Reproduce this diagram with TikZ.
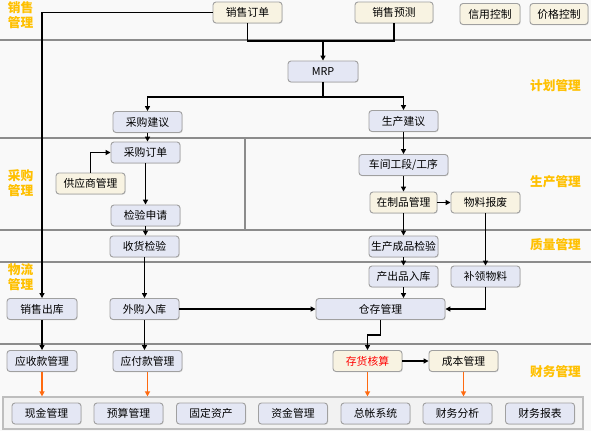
\documentclass[tikz,border=0pt]{standalone}
\usepackage{fontspec}
\newfontfamily\cjk{Noto Sans CJK SC}
\usetikzlibrary{arrows.meta,shadows}
\definecolor{bg}{HTML}{F9F9F9}
\definecolor{sepc}{HTML}{8C8C8C}
\definecolor{bluebox}{HTML}{E4E7F4}
\definecolor{creambox}{HTML}{F8F3E2}
\definecolor{boxedge}{HTML}{A0A0A0}
\definecolor{lblc}{HTML}{FFC000}
\definecolor{orarrow}{HTML}{FF6A10}
\definecolor{finfill}{HTML}{F2F2F2}
\definecolor{finedge}{HTML}{BEBEBE}
\begin{document}
\begin{tikzpicture}[x=1pt,y=-1pt,
  box/.style={draw=boxedge, line width=0.9pt, rounded corners=3pt, minimum height=21pt,
    inner sep=0pt, font=\cjk\fontsize{10.8}{12}\selectfont,
    drop shadow={shadow xshift=0.8pt,shadow yshift=-0.8pt,opacity=0.18}},
  bbox/.style={box, fill=bluebox},
  cbox/.style={box, fill=creambox},
  lab/.style={text=lblc, font=\cjk\bfseries\fontsize{12.7}{15}\selectfont, align=center, inner sep=0pt},
  sepline/.style={draw=sepc, line width=1.2pt},
  link/.style={draw=black, line width=1.3pt},
  arr/.style={link, -{Triangle[length=5pt,width=5pt]}},
  oarr/.style={draw=orarrow, line width=1.4pt, -{Triangle[length=5pt,width=5pt]}}
]
\fill[bg] (0,0) rectangle (591,431);
\useasboundingbox (0,0) rectangle (591,431);

% section lines
\draw[sepline] (0,40) -- (591,40);
\draw[sepline] (0,138) -- (591,138);
\draw[sepline] (0,230) -- (591,230);
\draw[sepline] (0,262) -- (591,262);
\draw[sepline] (0,344) -- (591,344);
\draw[sepline] (245,138) -- (245,230);

% section labels
\node[lab] (l1) at (20.5,15.5) {销售\\管理};
\node[lab] (l2) at (555.5,86) {计划管理};
\node[lab] (l3) at (20.5,183.5) {采购\\管理};
\node[lab] (l4) at (555.5,182) {生产管理};
\node[lab] (l5) at (555.5,245) {质量管理};
\node[lab] (l6) at (20.5,277.5) {物流\\管理};
\node[lab] (l7) at (555.5,372) {财务管理};

% bottom container
\node[draw=finedge, fill=finfill, line width=1.2pt, minimum width=580pt, minimum height=32pt, inner sep=0pt] (fin) at (293,413) {};

% nodes
\node[cbox, minimum width=69pt] (xsdd) at (247.5,12.5) {销售订单};
\node[cbox, minimum width=78pt] (xsyc) at (394,12.5) {销售预测};
\node[cbox, minimum width=60pt] (xykz) at (490,14) {信用控制};
\node[cbox, minimum width=58pt] (jgkz) at (559,14) {价格控制};
\node[bbox, minimum width=70pt] (mrp) at (323,71.5) {MRP};
\node[bbox, minimum width=69pt] (cgjy) at (147.5,122) {采购建议};
\node[bbox, minimum width=69pt] (scjy) at (403.5,121) {生产建议};
\node[bbox, minimum width=69pt] (cgdd) at (145.5,152.5) {采购订单};
\node[cbox, minimum width=69pt] (gys) at (90.5,183.5) {供应商管理};
\node[bbox, minimum width=69pt] (jysq) at (145.5,215.5) {检验申请};
\node[bbox, minimum width=69pt] (shjy) at (144.5,246.5) {收货检验};
\node[bbox, minimum width=89pt] (cj) at (403.5,165) {车间工段/工序};
\node[cbox, minimum width=67pt] (zzp) at (403.5,202.5) {在制品管理};
\node[cbox, minimum width=69pt] (wlbf) at (485.5,202.5) {物料报废};
\node[bbox, minimum width=69pt] (cpjy) at (403.5,246.5) {生产成品检验};
\node[bbox, minimum width=69pt] (ccrk) at (403.5,276.5) {产出品入库};
\node[bbox, minimum width=69pt] (blwl) at (485.5,276.5) {补领物料};
\node[bbox, minimum width=129pt] (cc) at (380.5,309) {仓存管理};
\node[bbox, minimum width=70pt] (xsck) at (42,309) {销售出库};
\node[bbox, minimum width=69pt] (wgrk) at (144.5,309) {外购入库};
\node[bbox, minimum width=70pt] (ysk) at (42,361) {应收款管理};
\node[bbox, minimum width=69pt] (yfk) at (147.5,361) {应付款管理};
\node[cbox, minimum width=69pt, text=red] (chhs) at (367.5,361) {存货核算};
\node[cbox, minimum width=69pt] (cbgl) at (463.5,361) {成本管理};

% bottom boxes
\node[bbox, minimum width=69pt] (f1) at (46.5,413.5) {现金管理};
\node[bbox, minimum width=69pt] (f2) at (128.5,413.5) {预算管理};
\node[bbox, minimum width=69pt] (f3) at (211,413.5) {固定资产};
\node[bbox, minimum width=69pt] (f4) at (293,413.5) {资金管理};
\node[bbox, minimum width=69pt] (f5) at (375.5,413.5) {总帐系统};
\node[bbox, minimum width=69pt] (f6) at (457.5,413.5) {财务分析};
\node[bbox, minimum width=69pt] (f7) at (540,413.5) {财务报表};

% junctions
\coordinate (m1) at (323,41);
\coordinate (m2) at (323,97);
\coordinate (k1) at (380.5,335);

% connectors
\draw[arr] (xsdd.west) -| (xsck.north);
\draw[link] (xsdd.south) |- (m1);
\draw[link] (xsyc.south) |- (m1);
\draw[arr] (m1) -- (mrp.north);
\draw[link] (mrp.south) -- (m2);
\draw[arr] (m2) -| (cgjy.north);
\draw[arr] (m2) -| (scjy.north);

\draw[arr] (cgjy.south) -- (cgjy.south |- cgdd.north);
\draw[arr] (gys.north) |- (cgdd.west);
\draw[arr] (cgdd.south) -- (cgdd.south |- jysq.north);
\draw[arr] (jysq.south) -- (jysq.south |- shjy.north);
\draw[arr] (shjy.south) -- (shjy.south |- wgrk.north);
\draw[arr] (wgrk.east) -- (cc.west);
\draw[arr] (xsck.south) -- (ysk.north);
\draw[arr] (wgrk.south) -- (wgrk.south |- yfk.north);

\draw[arr] (scjy.south) -- (cj.north);
\draw[arr] (cj.south) -- (zzp.north);
\draw[arr] (zzp.east) -- (wlbf.west);
\draw[arr] (zzp.south) -- (cpjy.north);
\draw[arr] (cpjy.south) -- (ccrk.north);
\draw[arr] (wlbf.south) -- (blwl.north);
\draw[arr] (ccrk.south) -- (ccrk.south |- cc.north);
\draw[arr] (blwl.south) |- (cc.east);
\draw[link] (cc.south) -- (k1);
\draw[arr] (k1) -| (chhs.north);
\draw[arr] (chhs.east) -- (cbgl.west);

% orange arrows
\draw[oarr] (ysk.south) -- (ysk.south |- fin.north);
\draw[oarr] (yfk.south) -- (yfk.south |- fin.north);
\draw[oarr] (chhs.south) -- (chhs.south |- fin.north);
\draw[oarr] (cbgl.south) -- (cbgl.south |- fin.north);
\end{tikzpicture}
\end{document}
